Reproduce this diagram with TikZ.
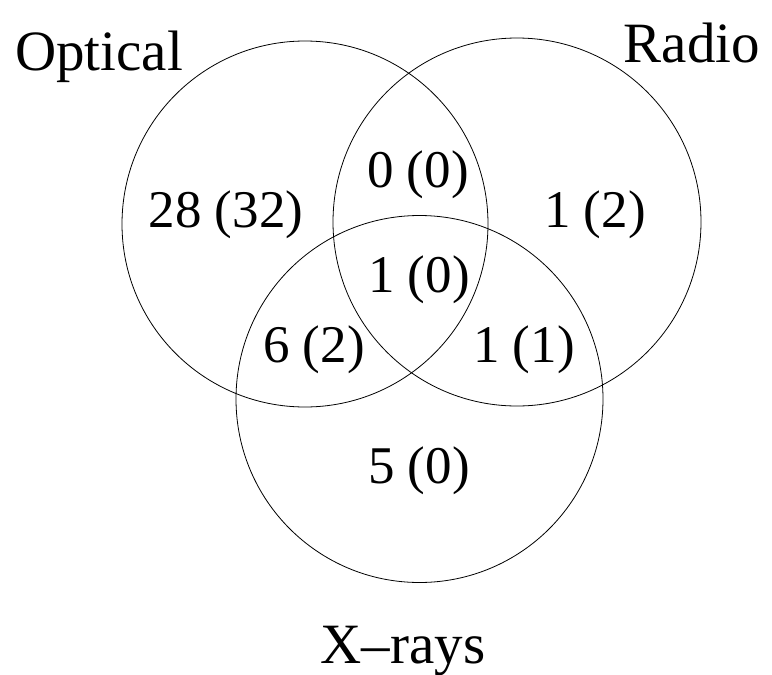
\documentclass[tikz,border=0pt]{standalone}
\usepackage{fontspec}
\setmainfont{Liberation Serif}
\tikzset{
  setcircle/.style={draw=black, line width=0.8pt},
  lbl/.style={anchor=base, inner sep=0pt, font=\fontsize{57}{60}\selectfont},
  num/.style={anchor=base, inner sep=0pt, font=\fontsize{53}{60}\selectfont}
}
\begin{document}
\begin{tikzpicture}[x=1pt,y=-1pt]
\useasboundingbox (0,0) rectangle (772,675);
\draw[setcircle] (305,224) circle[radius=183pt];
\draw[setcircle] (517,222) circle[radius=184pt];
\draw[setcircle] (419.5,399) circle[radius=183.5pt];
\node[lbl] (opt) at (99,70) {Optical};
\node[lbl] (rad) at (692,62) {Radio};
\node[lbl] (xr) at (403,663) {X–rays};
\node[num] (n1) at (226,227) {28 (32)};
\node[num] (n2) at (418,187) {0 (0)};
\node[num] (n3) at (595,227) {1 (2)};
\node[num] (n4) at (419,292) {1 (0)};
\node[num] (n5) at (314,362) {6 (2)};
\node[num] (n6) at (524,362) {1 (1)};
\node[num] (n7) at (419,483) {5 (0)};
\end{tikzpicture}
\end{document}
